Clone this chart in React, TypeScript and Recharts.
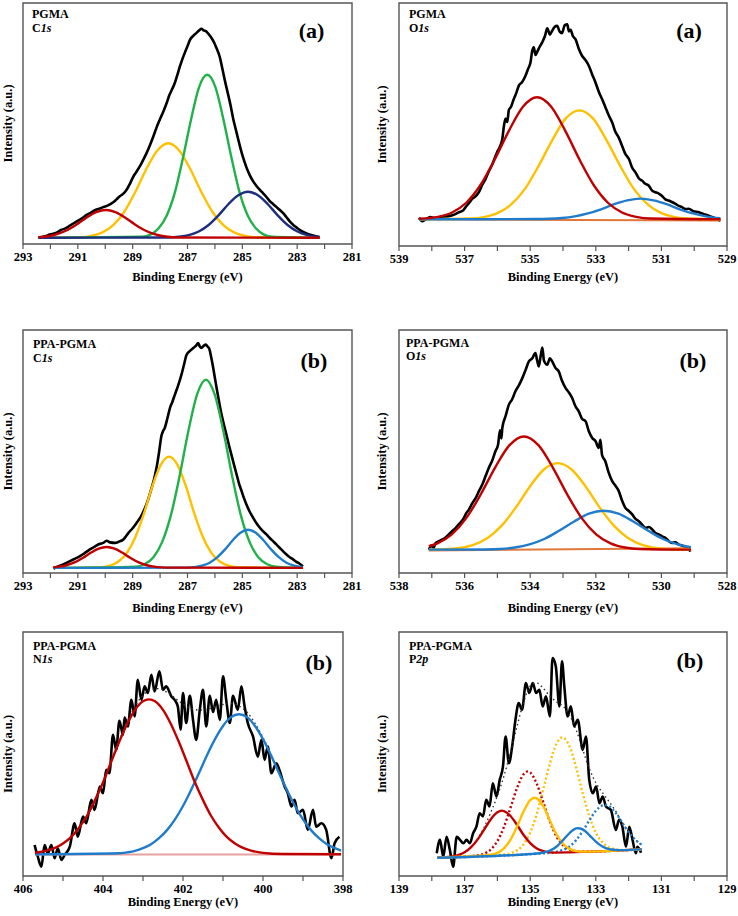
import React from 'react';
import { LineChart, Line, XAxis, YAxis, ReferenceArea } from 'recharts';

type Pt = [number, number];

// Intensities are % of the frame height; energies in eV (descending = left to right).

// PGMA C1s
const c1sA_exp: Pt[] = [[292.44,2.6],[292.2,3.2],[292.02,3.9],[291.8,4.6],[291.59,5.9],[291.45,6.5],[291.29,7.6],[291.15,8.6],[291.04,9.4],[290.85,10.6],[290.68,12.1],[290.52,13.0],[290.38,14.0],[290.22,14.6],[290.07,15.3],[289.9,16.0],[289.71,17.3],[289.6,18.4],[289.47,19.8],[289.35,20.8],[289.22,22.5],[289.1,25.0],[288.98,27.9],[288.86,30.0],[288.74,32.2],[288.62,34.8],[288.49,37.8],[288.37,41.0],[288.25,44.5],[288.13,48.3],[288.01,51.6],[287.88,55.0],[287.76,58.5],[287.66,61.8],[287.58,63.8],[287.46,66.9],[287.37,70.2],[287.28,73.6],[287.19,76.6],[287.1,79.3],[287.0,82.1],[286.91,84.7],[286.79,86.4],[286.67,87.6],[286.58,88.6],[286.49,89.3],[286.41,88.6],[286.33,88.3],[286.23,87.1],[286.13,85.6],[286.03,83.6],[285.94,81.2],[285.82,77.5],[285.73,72.8],[285.64,68.0],[285.52,62.1],[285.43,57.6],[285.34,52.3],[285.24,47.6],[285.15,43.4],[285.06,39.4],[284.97,35.8],[284.85,31.8],[284.73,28.6],[284.61,26.1],[284.49,24.2],[284.37,22.6],[284.24,21.0],[284.12,19.5],[284.0,17.8],[283.88,16.6],[283.76,15.4],[283.63,14.1],[283.51,12.8],[283.39,11.1],[283.27,9.4],[283.15,8.0],[283.03,6.9],[282.85,5.4],[282.66,4.4],[282.42,3.5],[282.18,2.8]];
const c1sA_green: Pt[] = [[292.44,2.6],[288.65,3.0],[288.35,3.9],[288.06,6.4],[287.76,11.7],[287.46,21.4],[287.17,35.5],[286.87,51.7],[286.58,65.0],[286.28,70.2],[285.98,65.0],[285.69,51.7],[285.39,35.5],[285.1,21.4],[284.8,11.7],[284.5,6.4],[284.21,3.9],[283.91,3.0],[282.18,2.6]];
const c1sA_yellow: Pt[] = [[292.44,2.6],[290.9,2.8],[290.5,3.4],[290.1,4.8],[289.7,7.9],[289.3,13.5],[288.9,21.7],[288.5,31.1],[288.1,38.8],[287.7,41.8],[287.3,38.8],[286.9,31.1],[286.5,21.7],[286.1,13.5],[285.7,7.9],[285.3,4.8],[284.9,3.4],[284.5,2.8],[282.18,2.6]];
const c1sA_navy: Pt[] = [[292.44,2.6],[287.67,2.7],[287.31,3.0],[286.95,3.7],[286.59,5.2],[286.23,7.9],[285.87,11.9],[285.51,16.5],[285.15,20.2],[284.79,21.7],[284.43,20.2],[284.07,16.5],[283.71,11.9],[283.35,7.9],[282.99,5.2],[282.63,3.7],[282.27,3.0],[282.18,2.9]];
const c1sA_red: Pt[] = [[292.44,2.8],[292.08,3.2],[291.73,4.2],[291.38,5.8],[291.03,8.2],[290.68,11.0],[290.33,13.2],[289.98,14.1],[289.63,13.2],[289.28,11.0],[288.93,8.2],[288.58,5.8],[288.23,4.2],[287.88,3.2],[287.53,2.8],[287.18,2.7],[282.18,2.6]];

// PGMA O1s
const o1sA_exp: Pt[] = [[538.39,11.6],[538.29,10.2],[538.19,10.9],[538.05,11.9],[537.88,11.4],[537.7,12.1],[537.48,12.3],[537.3,13.0],[537.17,13.9],[537.05,14.6],[536.97,16.0],[536.87,17.6],[536.77,19.4],[536.66,20.5],[536.56,22.3],[536.46,25.2],[536.36,27.6],[536.26,30.8],[536.16,33.4],[536.08,36.2],[536.01,38.6],[535.93,40.6],[535.85,44.0],[535.8,49.5],[535.75,52.4],[535.7,51.0],[535.65,56.0],[535.58,57.4],[535.5,60.5],[535.42,63.1],[535.35,65.9],[535.25,67.4],[535.14,70.2],[535.06,73.0],[534.99,75.6],[534.94,80.2],[534.89,81.8],[534.84,78.6],[534.79,79.8],[534.71,82.0],[534.63,83.9],[534.55,86.4],[534.48,89.6],[534.4,87.0],[534.33,88.6],[534.25,90.2],[534.18,90.6],[534.1,88.2],[534.03,87.6],[533.95,90.8],[533.87,91.2],[533.82,88.3],[533.77,89.0],[533.7,86.4],[533.62,85.1],[533.52,81.2],[533.42,78.3],[533.32,76.6],[533.21,74.1],[533.11,70.6],[533.01,67.3],[532.91,63.5],[532.81,60.5],[532.71,57.2],[532.6,53.6],[532.5,50.8],[532.4,46.9],[532.3,44.6],[532.2,41.3],[532.1,37.9],[531.99,35.8],[531.89,32.2],[531.79,30.3],[531.69,27.9],[531.59,26.9],[531.49,25.6],[531.39,24.9],[531.29,22.9],[531.18,22.1],[531.08,21.6],[530.98,20.6],[530.88,19.2],[530.78,18.7],[530.68,18.1],[530.57,17.3],[530.47,16.5],[530.37,16.0],[530.27,15.2],[530.17,15.3],[530.02,14.3],[529.86,13.9],[529.71,13.1],[529.56,12.5],[529.4,11.6],[529.2,10.4]];
const o1sA_red: Pt[] = [[538.39,11.2],[537.81,12.0],[537.38,13.8],[536.95,17.8],[536.52,25.0],[536.09,35.4],[535.65,47.4],[535.22,57.3],[534.79,61.2],[534.36,57.3],[533.93,47.4],[533.49,35.4],[533.06,25.0],[532.63,17.8],[532.2,13.8],[531.77,12.0],[531.33,11.3],[529.2,11.0]];
const o1sA_yellow: Pt[] = [[538.39,11.0],[536.83,11.3],[536.41,11.9],[536.0,13.5],[535.58,17.1],[535.16,23.5],[534.75,32.8],[534.33,43.5],[533.92,52.4],[533.5,55.8],[533.08,52.4],[532.67,43.5],[532.25,32.8],[531.84,23.5],[531.42,17.1],[531.0,13.5],[530.59,11.9],[530.17,11.3],[529.2,11.0]];
const o1sA_blue: Pt[] = [[538.39,11.0],[534.84,11.1],[534.44,11.2],[534.04,11.5],[533.64,12.2],[533.24,13.4],[532.84,15.1],[532.44,17.2],[532.04,18.8],[531.64,19.5],[531.24,18.8],[530.84,17.2],[530.44,15.1],[530.04,13.4],[529.64,12.2],[529.2,11.4]];
const o1sA_base: Pt[] = [[538.39,11.0],[529.2,10.5]];

// PPA-PGMA C1s
const c1sB_exp: Pt[] = [[291.89,1.8],[291.7,2.8],[291.55,3.4],[291.41,4.2],[291.25,5.1],[291.08,6.0],[290.92,6.9],[290.75,8.2],[290.56,9.7],[290.38,10.9],[290.19,12.0],[290.07,12.4],[289.95,13.3],[289.82,12.6],[289.65,12.4],[289.5,12.9],[289.34,13.8],[289.25,15.0],[289.16,16.4],[289.01,18.3],[288.86,20.6],[288.7,23.2],[288.55,26.8],[288.43,30.4],[288.31,35.0],[288.22,38.6],[288.13,43.3],[288.04,49.5],[287.95,56.5],[287.89,58.4],[287.83,59.7],[287.73,63.8],[287.64,67.9],[287.55,70.5],[287.46,73.4],[287.34,77.2],[287.22,81.6],[287.13,85.6],[287.04,89.6],[286.91,91.4],[286.79,92.6],[286.7,93.4],[286.61,94.6],[286.55,93.2],[286.49,92.6],[286.41,93.5],[286.33,94.0],[286.27,93.2],[286.21,92.4],[286.13,88.5],[286.06,84.3],[286.0,80.2],[285.94,76.2],[285.85,70.6],[285.76,65.3],[285.67,61.0],[285.58,56.9],[285.49,52.7],[285.4,48.7],[285.3,44.4],[285.21,40.6],[285.12,36.8],[285.03,33.8],[284.94,30.8],[284.85,28.2],[284.73,25.2],[284.61,22.8],[284.49,20.6],[284.36,18.6],[284.24,17.1],[284.12,15.9],[284.0,14.4],[283.88,13.1],[283.76,11.8],[283.64,10.4],[283.52,9.0],[283.39,7.6],[283.27,6.5],[283.15,5.6],[283.03,4.6],[282.91,3.8],[282.79,2.7]];
const c1sB_green: Pt[] = [[291.9,2.1],[288.89,2.6],[288.57,3.6],[288.25,6.4],[287.93,12.6],[287.61,23.6],[287.29,39.8],[286.97,58.3],[286.65,73.5],[286.33,79.5],[286.01,73.5],[285.69,58.3],[285.37,39.8],[285.05,23.6],[284.73,12.6],[284.41,6.4],[284.09,3.6],[283.77,2.6],[282.79,2.1]];
const c1sB_yellow: Pt[] = [[291.9,2.1],[290.13,2.4],[289.83,3.0],[289.52,4.7],[289.21,8.3],[288.9,14.8],[288.59,24.4],[288.29,35.4],[287.98,44.4],[287.67,47.9],[287.36,44.4],[287.05,35.4],[286.75,24.4],[286.44,14.8],[286.13,8.3],[285.82,4.7],[285.51,3.0],[285.21,2.4],[282.79,2.1]];
const c1sB_blue: Pt[] = [[291.9,2.1],[287.03,2.2],[286.75,2.4],[286.47,3.0],[286.19,4.2],[285.91,6.5],[285.63,9.7],[285.35,13.5],[285.07,16.6],[284.79,17.8],[284.51,16.6],[284.23,13.5],[283.95,9.7],[283.67,6.5],[283.39,4.2],[283.11,3.0],[282.79,2.4]];
const c1sB_red: Pt[] = [[291.9,2.3],[291.68,2.6],[291.39,3.3],[291.1,4.5],[290.81,6.3],[290.53,8.3],[290.24,10.0],[289.95,10.7],[289.66,10.0],[289.37,8.3],[289.09,6.3],[288.8,4.5],[288.51,3.3],[288.22,2.6],[287.93,2.3],[287.65,2.2],[282.79,2.1]];

// PPA-PGMA O1s
const o1sB_exp: Pt[] = [[537.09,9.6],[537.0,11.4],[536.95,10.2],[536.88,12.4],[536.78,13.1],[536.68,13.8],[536.58,14.6],[536.48,15.9],[536.38,17.2],[536.27,18.6],[536.15,20.4],[536.02,22.7],[535.95,24.6],[535.87,26.1],[535.77,28.6],[535.66,30.9],[535.56,33.8],[535.46,36.4],[535.36,39.9],[535.26,43.3],[535.16,46.2],[535.06,50.1],[534.98,52.8],[534.92,58.7],[534.88,55.4],[534.85,59.7],[534.75,64.6],[534.65,69.3],[534.55,71.5],[534.45,74.8],[534.35,77.1],[534.24,80.2],[534.14,83.6],[534.04,87.1],[533.94,88.3],[533.84,90.5],[533.79,87.6],[533.74,85.0],[533.68,89.4],[533.63,92.8],[533.58,87.3],[533.48,85.7],[533.4,88.4],[533.33,87.1],[533.23,84.4],[533.13,83.0],[533.03,79.1],[532.92,76.1],[532.82,74.3],[532.72,72.0],[532.62,68.6],[532.52,66.5],[532.42,63.5],[532.31,62.4],[532.21,58.2],[532.11,55.6],[532.01,54.3],[531.91,51.5],[531.86,54.8],[531.81,48.6],[531.71,46.0],[531.61,41.4],[531.5,37.8],[531.4,35.9],[531.3,33.7],[531.2,29.8],[531.1,26.8],[531.0,25.6],[530.89,24.1],[530.79,22.3],[530.69,21.3],[530.59,19.9],[530.49,18.6],[530.38,18.9],[530.28,17.9],[530.18,16.4],[530.08,15.9],[529.98,15.1],[529.88,14.5],[529.78,13.2],[529.68,12.4],[529.58,12.6],[529.47,11.7],[529.37,11.3],[529.27,10.6],[529.17,10.1],[529.12,8.8]];
const o1sB_red: Pt[] = [[537.09,11.0],[536.83,12.2],[536.39,15.9],[535.95,22.6],[535.51,32.3],[535.07,43.4],[534.63,52.6],[534.19,56.2],[533.75,52.6],[533.31,43.4],[532.87,32.3],[532.43,22.6],[531.99,15.9],[531.55,12.2],[531.11,10.5],[530.67,9.9],[529.1,9.6]];
const o1sB_yellow: Pt[] = [[537.09,9.7],[536.58,9.8],[536.16,10.3],[535.73,11.6],[535.3,14.4],[534.87,19.5],[534.44,26.9],[534.02,35.4],[533.59,42.5],[533.16,45.2],[532.73,42.5],[532.3,35.4],[531.88,26.9],[531.45,19.5],[531.02,14.4],[530.59,11.6],[530.16,10.3],[529.74,9.8],[529.1,9.6]];
const o1sB_blue: Pt[] = [[537.09,9.6],[535.38,9.7],[534.92,9.9],[534.47,10.5],[534.02,11.8],[533.57,14.0],[533.12,17.4],[532.66,21.2],[532.21,24.4],[531.76,25.6],[531.31,24.4],[530.86,21.2],[530.4,17.4],[529.95,14.0],[529.5,11.8],[529.1,10.6]];
const o1sB_base: Pt[] = [[537.09,9.3],[529.1,10.2]];

// PPA-PGMA N1s
const n1s_exp: Pt[] = [[405.71,12.7],[405.63,7.9],[405.54,3.8],[405.46,12.7],[405.38,9.3],[405.29,12.7],[405.21,7.3],[405.13,11.4],[405.04,6.6],[404.96,8.6],[404.83,12.0],[404.71,21.6],[404.63,16.1],[404.5,24.4],[404.42,21.6],[404.29,31.2],[404.21,27.1],[404.08,36.7],[404.0,33.9],[403.92,43.5],[403.84,42.1],[403.75,57.9],[403.67,51.7],[403.59,63.6],[403.5,57.9],[403.46,64.9],[403.38,61.3],[403.29,72.2],[403.21,65.4],[403.13,80.4],[403.04,72.2],[402.96,77.7],[402.88,75.0],[402.79,82.5],[402.71,75.6],[402.59,83.9],[402.5,76.3],[402.42,77.7],[402.29,73.6],[402.21,72.2],[402.13,69.5],[402.06,60.0],[402.0,75.0],[401.92,62.7],[401.83,73.9],[401.75,64.0],[401.67,55.8],[401.58,68.1],[401.5,76.3],[401.42,61.3],[401.33,73.9],[401.25,67.2],[401.17,72.2],[401.08,64.0],[401.0,81.8],[400.92,72.2],[400.83,62.7],[400.75,73.9],[400.63,68.1],[400.54,77.7],[400.46,69.5],[400.38,62.7],[400.25,57.2],[400.13,48.9],[400.04,55.8],[399.96,47.6],[399.88,53.1],[399.79,42.1],[399.67,46.2],[399.59,43.5],[399.46,36.7],[399.38,33.9],[399.29,28.5],[399.21,31.2],[399.13,25.7],[399.0,27.1],[398.88,18.9],[398.75,27.1],[398.67,20.2],[398.54,21.6],[398.42,18.9],[398.29,7.3],[398.21,13.4],[398.09,16.1]];
const n1s_fit: Pt[] = [[405.7,9.5],[405.6,9.7],[405.4,10.4],[405.2,11.5],[405.0,13.3],[404.8,15.9],[404.6,19.8],[404.4,24.7],[404.2,31.1],[404.0,38.4],[403.8,46.8],[403.6,55.2],[403.4,63.0],[403.2,69.5],[403.0,74.1],[402.8,76.4],[402.6,76.8],[402.4,75.3],[402.2,72.9],[402.0,70.5],[401.8,68.7],[401.6,68.0],[401.4,68.3],[401.2,69.4],[401.0,70.3],[400.8,70.7],[400.6,69.7],[400.4,67.1],[400.2,62.6],[400.0,56.7],[399.8,49.8],[399.6,42.3],[399.4,35.2],[399.2,28.7],[399.0,23.2],[398.8,18.8],[398.6,15.5],[398.4,13.0],[398.2,11.4],[398.05,10.4]];
const n1s_red: Pt[] = [[405.7,9.5],[405.4,10.4],[405.2,11.5],[405.0,13.3],[404.8,15.9],[404.6,19.8],[404.4,24.7],[404.2,31.1],[404.0,38.3],[403.8,46.6],[403.6,54.8],[403.4,62.2],[403.2,68.1],[403.0,71.6],[402.85,72.4],[402.7,71.6],[402.5,68.1],[402.3,62.2],[402.1,54.8],[401.9,46.6],[401.7,38.3],[401.5,31.1],[401.3,24.7],[401.1,19.8],[400.9,15.9],[400.7,13.3],[400.5,11.5],[400.3,10.4],[400.0,9.5],[399.5,9.0],[398.05,8.9]];
const n1s_blue: Pt[] = [[405.7,8.9],[403.6,9.3],[403.4,9.7],[403.2,10.3],[403.0,11.4],[402.8,13.0],[402.6,15.5],[402.4,18.8],[402.2,23.2],[402.0,28.7],[401.8,35.2],[401.6,42.2],[401.4,49.5],[401.2,56.1],[401.0,61.5],[400.8,65.1],[400.6,66.3],[400.4,65.1],[400.2,61.5],[400.0,56.1],[399.8,49.5],[399.6,42.2],[399.4,35.2],[399.2,28.7],[399.0,23.2],[398.8,18.8],[398.6,15.5],[398.4,13.0],[398.2,11.4],[398.05,10.4]];
const n1s_base: Pt[] = [[405.7,8.8],[398.05,8.8]];

// PPA-PGMA P2p
const p2p_exp: Pt[] = [[137.85,9.3],[137.75,14.8],[137.65,7.9],[137.55,16.1],[137.45,10.7],[137.35,3.8],[137.24,16.1],[137.14,14.8],[137.04,13.4],[136.94,14.8],[136.84,13.4],[136.74,17.5],[136.64,20.2],[136.54,25.7],[136.44,24.4],[136.34,31.2],[136.24,28.5],[136.14,38.0],[136.03,32.6],[135.93,39.4],[135.83,44.9],[135.75,57.2],[135.65,46.2],[135.55,53.1],[135.45,64.0],[135.35,70.9],[135.25,68.1],[135.13,79.1],[135.03,75.0],[134.92,79.1],[134.82,75.0],[134.72,76.3],[134.62,69.5],[134.52,73.6],[134.4,65.4],[134.32,89.3],[134.22,86.0],[134.11,69.5],[134.03,88.0],[133.96,77.7],[133.86,65.4],[133.76,69.5],[133.66,61.3],[133.55,64.0],[133.4,51.7],[133.3,57.2],[133.2,39.4],[133.09,33.9],[132.99,36.7],[132.89,29.8],[132.79,32.6],[132.69,28.5],[132.54,27.1],[132.39,18.9],[132.29,23.0],[132.19,20.2],[132.08,12.0],[131.98,20.2],[131.88,14.8],[131.78,9.3],[131.73,12.0],[131.62,9.5]];
const p2p_fit: Pt[] = [[137.8,7.5],[137.6,7.7],[137.4,8.0],[137.2,8.5],[137.0,9.7],[136.8,11.9],[136.6,15.3],[136.4,20.1],[136.2,26.1],[136.0,32.9],[135.8,41.0],[135.6,50.7],[135.4,61.4],[135.2,71.3],[135.0,77.8],[134.8,79.1],[134.6,76.9],[134.4,73.7],[134.2,71.4],[134.0,69.6],[133.8,65.9],[133.6,59.9],[133.4,51.9],[133.2,44.1],[133.0,38.2],[132.8,34.2],[132.6,30.6],[132.4,26.7],[132.2,22.1],[132.0,18.0],[131.8,14.9],[131.6,12.8]];
const p2p_redSolid: Pt[] = [[137.83,7.5],[137.4,7.9],[137.2,8.5],[137.0,9.7],[136.8,11.8],[136.6,15.0],[136.4,19.1],[136.2,23.3],[136.0,26.1],[135.87,26.8],[135.8,26.6],[135.6,24.6],[135.4,20.9],[135.2,16.8],[135.0,13.5],[134.8,11.3],[134.6,10.2],[134.4,9.7],[134.2,9.6],[133.8,9.7],[131.6,10.9]];
const p2p_yellowSolid: Pt[] = [[137.83,7.5],[136.8,8.1],[136.4,8.4],[136.2,8.7],[136.0,9.5],[135.8,11.3],[135.6,14.9],[135.4,20.3],[135.2,26.5],[135.0,31.1],[134.87,32.1],[134.8,31.8],[134.6,28.5],[134.4,22.7],[134.2,17.1],[134.0,13.2],[133.8,11.1],[133.6,10.2],[133.4,10.0],[131.6,10.9]];
const p2p_blueSolid: Pt[] = [[137.83,7.5],[135.0,9.0],[134.8,9.2],[134.6,9.6],[134.4,10.4],[134.2,12.0],[134.0,14.7],[133.8,17.6],[133.6,19.5],[133.54,19.6],[133.4,19.1],[133.2,16.8],[133.0,14.1],[132.8,12.1],[132.6,11.0],[132.4,10.7],[132.2,10.6],[131.6,10.9]];
const p2p_redDot: Pt[] = [[137.83,7.5],[137.0,8.0],[136.8,8.2],[136.6,8.5],[136.4,9.2],[136.2,10.9],[136.0,14.3],[135.8,20.1],[135.6,28.0],[135.4,36.1],[135.2,41.7],[135.08,42.8],[135.0,42.4],[134.8,37.8],[134.6,30.2],[134.4,22.3],[134.2,16.2],[134.0,12.6],[133.8,10.8],[133.6,10.2],[133.4,10.0],[131.6,10.9]];
const p2p_yellowDot: Pt[] = [[137.83,7.5],[136.2,8.4],[136.0,8.6],[135.8,8.8],[135.6,9.3],[135.4,10.5],[135.2,13.0],[135.0,17.8],[134.8,25.4],[134.6,35.6],[134.4,46.1],[134.2,54.1],[134.02,56.8],[133.8,53.1],[133.6,44.5],[133.4,34.0],[133.2,24.6],[133.0,17.8],[132.8,13.8],[132.6,11.8],[132.4,11.0],[132.2,10.7],[131.6,10.9]];
const p2p_blueDot: Pt[] = [[137.83,7.5],[134.6,9.3],[134.4,9.5],[134.2,9.9],[134.0,10.7],[133.8,12.1],[133.6,14.7],[133.4,18.4],[133.2,22.7],[133.0,26.7],[132.8,28.9],[132.73,29.1],[132.6,28.6],[132.4,26.0],[132.2,22.0],[132.0,18.0],[131.8,14.9],[131.6,12.8]];

const BLACK = '#000000';
const GREEN = '#21b14b';
const YELLOW = '#ffc000';
const NAVY = '#1c2e7c';
const RED = '#c00000';
const BLUE = '#1f7ccc';
const ORANGE = '#e0783a';
const PINK = '#e8a1a1';

const serif = 'Liberation Serif, Times New Roman, DejaVu Serif, serif';

interface Curve {
  pts: Pt[];
  color: string;
  width?: number;
  dash?: string;
}

interface Box { L: number; R: number; T: number; B: number }

interface PanelProps {
  box: Box;
  domain: [number, number];
  yw: number;
  titleOffset: number;
  curves: Curve[];
}

const toRows = (pts: Pt[]) => pts.map(([e, v]) => ({ e, v }));

const Panel: React.FC<PanelProps> = ({ box, domain, yw, titleOffset, curves }) => {
  const [lo, hi] = domain;
  const ticks: number[] = [];
  for (let t = lo; t <= hi; t++) ticks.push(t);
  const axisH = 44;
  const width = box.R - box.L + yw + 12;
  const height = box.B - box.T + 6 + axisH;
  return (
    <div style={{ position: 'absolute', left: box.L - yw - 2, top: box.T - 6 }}>
      <LineChart width={width} height={height} margin={{ top: 6, right: 10, left: 2, bottom: 0 }}>
        <XAxis
          dataKey="e"
          type="number"
          domain={domain}
          allowDataOverflow
          reversed
          ticks={ticks}
          interval={0}
          tickFormatter={(v: number) => ((v - lo) % 2 === 0 ? String(v) : '')}
          axisLine={false}
          tickSize={5}
          tickLine={{ stroke: '#555', strokeWidth: 1.2 }}
          tickMargin={3}
          tick={{ fontSize: 12.5, fontWeight: 700, fill: '#000', fontFamily: serif }}
          height={axisH}
          label={{
            value: 'Binding  Energy  (eV)',
            position: 'insideBottom',
            offset: titleOffset,
            fontSize: 12.5,
            fontWeight: 700,
            fill: '#000',
            fontFamily: serif,
          }}
        />
        <YAxis
          type="number"
          domain={[0, 100]}
          allowDataOverflow
          tick={false}
          axisLine={false}
          tickLine={false}
          width={yw}
          label={{
            value: 'Intensity (a.u.)',
            angle: -90,
            position: 'center',
            fontSize: 12.5,
            fontWeight: 700,
            fill: '#000',
            fontFamily: serif,
          }}
        />
        <ReferenceArea x1={lo} x2={hi} y1={0} y2={100} fill="none" stroke="#555" strokeWidth={1.4} ifOverflow="visible" />
        {curves.map((c, i) => (
          <Line
            key={i}
            data={toRows(c.pts)}
            dataKey="v"
            type="monotone"
            stroke={c.color}
            strokeWidth={c.width ?? 2.4}
            strokeDasharray={c.dash}
            dot={false}
            activeDot={false}
            isAnimationActive={false}
          />
        ))}
      </LineChart>
    </div>
  );
};

const DOT = '2 2.4';

const panels: PanelProps[] = [
  {
    box: { L: 23, R: 352, T: 3, B: 244 }, domain: [281, 293], yw: 30, titleOffset: 7,
    curves: [
      { pts: c1sA_exp, color: BLACK, width: 2.6 },
      { pts: c1sA_yellow, color: YELLOW },
      { pts: c1sA_green, color: GREEN },
      { pts: c1sA_navy, color: NAVY },
      { pts: c1sA_red, color: RED },
    ],
  },
  {
    box: { L: 399, R: 727, T: 3, B: 246 }, domain: [529, 539], yw: 34, titleOffset: 9,
    curves: [
      { pts: o1sA_exp, color: BLACK, width: 2.6 },
      { pts: o1sA_base, color: ORANGE, width: 2 },
      { pts: o1sA_yellow, color: YELLOW },
      { pts: o1sA_blue, color: BLUE },
      { pts: o1sA_red, color: RED },
    ],
  },
  {
    box: { L: 23, R: 352, T: 330, B: 573 }, domain: [281, 293], yw: 30, titleOffset: 5,
    curves: [
      { pts: c1sB_exp, color: BLACK, width: 2.6 },
      { pts: c1sB_yellow, color: YELLOW },
      { pts: c1sB_green, color: GREEN },
      { pts: c1sB_blue, color: BLUE },
      { pts: c1sB_red, color: RED },
    ],
  },
  {
    box: { L: 399, R: 727, T: 330, B: 573 }, domain: [528, 538], yw: 34, titleOffset: 5,
    curves: [
      { pts: o1sB_exp, color: BLACK, width: 2.6 },
      { pts: o1sB_base, color: ORANGE, width: 2 },
      { pts: o1sB_yellow, color: YELLOW },
      { pts: o1sB_blue, color: BLUE },
      { pts: o1sB_red, color: RED },
    ],
  },
  {
    box: { L: 23, R: 343, T: 632, B: 876 }, domain: [398, 406], yw: 30, titleOffset: 14,
    curves: [
      { pts: n1s_exp, color: BLACK, width: 2.6 },
      { pts: n1s_fit, color: '#333', width: 1.4, dash: '1.5 3' },
      { pts: n1s_base, color: PINK, width: 2 },
      { pts: n1s_blue, color: BLUE },
      { pts: n1s_red, color: RED },
    ],
  },
  {
    box: { L: 399, R: 727, T: 632, B: 876 }, domain: [129, 139], yw: 34, titleOffset: 14,
    curves: [
      { pts: p2p_exp, color: BLACK, width: 2.6 },
      { pts: p2p_fit, color: '#333', width: 1.4, dash: '1.5 3' },
      { pts: p2p_redDot, color: RED, dash: DOT },
      { pts: p2p_yellowDot, color: YELLOW, dash: DOT },
      { pts: p2p_blueDot, color: BLUE, dash: DOT },
      { pts: p2p_redSolid, color: RED },
      { pts: p2p_yellowSolid, color: YELLOW },
      { pts: p2p_blueSolid, color: BLUE },
    ],
  },
];

// sample / core-level captions and panel letters
const captions = [
  { x: 32, y: 18.3, name: 'PGMA', el: 'C', orb: '1s', letter: '(a)', lx: 311.5, ly: 38.3 },
  { x: 409, y: 18.3, name: 'PGMA', el: 'O', orb: '1s', letter: '(a)', lx: 689, ly: 38 },
  { x: 33, y: 348.3, name: 'PPA-PGMA', el: 'C', orb: '1s', letter: '(b)', lx: 314, ly: 368 },
  { x: 406, y: 346.7, name: 'PPA-PGMA', el: 'O', orb: '1s', letter: '(b)', lx: 693, ly: 368 },
  { x: 33, y: 650, name: 'PPA-PGMA', el: 'N', orb: '1s', letter: '(b)', lx: 319, ly: 669.6 },
  { x: 409, y: 650, name: 'PPA-PGMA', el: 'P', orb: '2p', letter: '(b)', lx: 690, ly: 668 },
];

export default function App() {
  return (
    <div style={{ position: 'absolute', left: 0, top: 0, width: 738, height: 916, background: '#fff', overflow: 'hidden', fontFamily: serif }}>
      {panels.map((p, i) => (
        <Panel key={i} {...p} />
      ))}
      <svg width={738} height={916} style={{ position: 'absolute', left: 0, top: 0, pointerEvents: 'none' }}>
        {captions.map((c, i) => (
          <g key={i} style={{ fontFamily: serif }} fontWeight={700} fill="#000">
            <text x={c.x} y={c.y} fontSize={12}>{c.name}</text>
            <text x={c.x} y={c.y + 13.4} fontSize={12}>
              {c.el}
              <tspan fontStyle="italic">{c.orb}</tspan>
            </text>
            <text x={c.lx} y={c.ly} fontSize={22} textAnchor="middle">{c.letter}</text>
          </g>
        ))}
      </svg>
    </div>
  );
}
